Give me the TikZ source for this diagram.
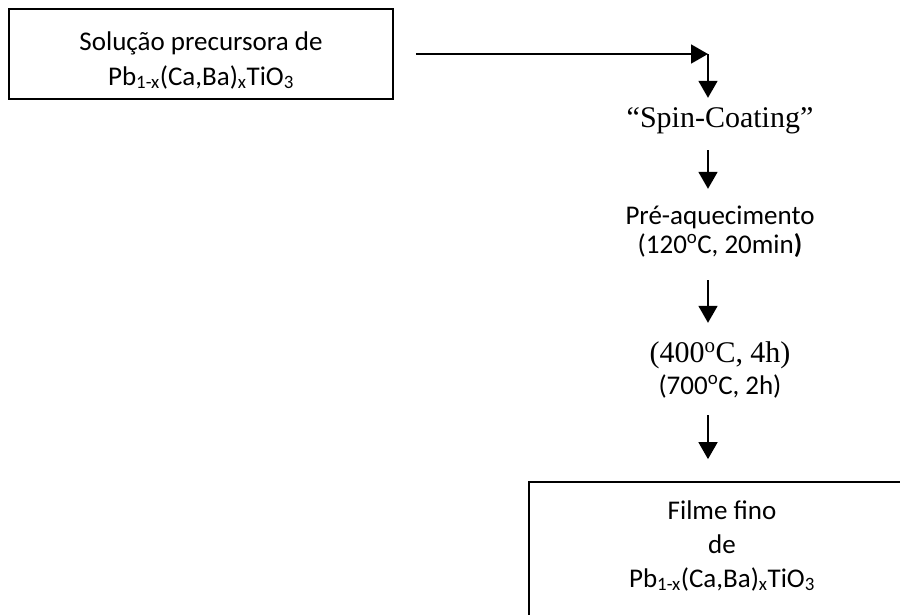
\documentclass[tikz,border=0pt]{standalone}
\usepackage{fontspec}
\setmainfont{Carlito}
\newfontfamily\romanfont{Liberation Serif}
\usetikzlibrary{positioning}
\usetikzlibrary{arrows.meta}
\usetikzlibrary{calc}

\tikzset{
    etapa/.style={draw, line width=1.8pt, minimum width=386pt, align=center, inner ysep=0pt},
    passo/.style={align=center, inner sep=0pt},
    seta/.style={line width=1.8pt, -{Triangle[length=17pt,width=19pt]}},
}
\newcommand{\pbcbt}{Pb\textsubscript{1-x}(Ca,Ba)\textsubscript{x}TiO\textsubscript{3}}

\begin{document}
\begin{tikzpicture}[x=1pt, y=-1pt]
        \useasboundingbox (0,0) rectangle (900,614);
        \clip (0,0) rectangle (900,614);
        \node[etapa, minimum width=384pt, text height=76pt, text depth=14pt,
        font=\fontsize{27}{35}\selectfont] (solucao) at (201,54)
        {Solução precursora de\\ \pbcbt};
        \coordinate (eixo) at (708,54);

        \node[passo, text height=29pt, text depth=23pt,
        font=\romanfont\fontsize{30}{34}\selectfont] (spin) at (720,124) {“Spin-Coating”};
        \node[passo, text height=64pt, text depth=27pt,
        font=\fontsize{27}{29}\selectfont] (preaq) at (720,234.5)
        {Pré-aquecimento\\ (120\textsuperscript{o}C, 20min{\bfseries )}};
        \node[passo, text height=71pt, text depth=21pt,
        font=\fontsize{27}{32}\selectfont] (trat) at (720,369)
        {{\romanfont\fontsize{30}{32}\selectfont (400\textsuperscript{o}C, 4h)}\\ (700\textsuperscript{o}C, 2h)};
        \node[etapa, text height=105pt, text depth=73pt,
        font=\fontsize{27}{34}\selectfont] (filme) at (722,571)
        {Filme fino\\ de\\ \pbcbt};

        \draw[seta, shorten <=22pt] (solucao.east) -- (eixo);
        \draw[seta] (eixo) -- (spin.north -| eixo);
        \draw[seta] (spin.south -| eixo) -- (preaq.north -| eixo);
        \draw[seta] (preaq.south -| eixo) -- (trat.north -| eixo);
        \draw[seta, shorten >=22pt] (trat.south -| eixo) -- (filme.north -| eixo);
\end{tikzpicture}
\end{document}
